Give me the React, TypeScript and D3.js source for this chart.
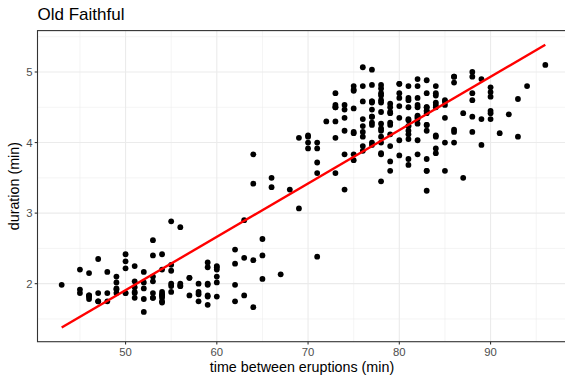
import React from "react";
import * as d3 from "d3";

const waiting: number[] = [79,54,74,62,85,55,88,85,51,85,54,84,78,47,83,52,62,84,52,79,51,47,78,69,74,83,55,76,78,79,73,77,66,80,74,52,48,80,59,90,80,58,84,58,73,83,64,53,82,59,75,90,54,80,54,83,71,64,77,81,59,84,48,82,60,92,78,78,65,73,82,56,79,71,62,76,60,78,76,83,75,82,70,65,73,88,76,80,48,86,60,90,50,78,63,72,84,75,51,82,62,88,49,83,81,47,84,52,86,81,75,59,89,79,59,81,50,85,59,87,53,69,77,56,88,81,45,82,55,90,45,83,56,89,46,82,51,86,53,79,81,60,82,77,76,59,80,49,96,53,77,77,65,81,71,70,81,93,53,89,45,86,58,78,66,76,63,88,52,93,49,57,77,68,81,81,73,50,85,74,55,77,83,83,51,78,84,46,83,55,81,57,76,84,77,81,87,77,51,78,60,82,91,53,78,46,77,84,49,83,71,80,49,75,64,76,53,94,55,76,50,82,54,75,78,79,78,78,70,79,70,54,86,50,90,54,54,77,79,64,75,47,86,63,85,82,57,82,67,74,54,83,73,73,88,80,71,83,56,79,78,84,58,83,43,60,75,81,46,90,46,74];

const eruptions: number[] = [3.6,1.8,3.333,2.283,4.533,2.883,4.7,3.6,1.95,4.35,1.833,3.917,4.2,1.75,4.7,2.167,1.75,4.8,1.6,4.25,1.8,1.75,3.45,3.067,4.533,3.6,1.967,4.083,3.85,4.433,4.3,4.467,3.367,4.033,3.833,2.017,1.867,4.833,1.833,4.783,4.35,1.883,4.567,1.75,4.533,3.317,3.833,2.1,4.633,2,4.8,4.716,1.833,4.833,1.733,4.883,3.717,1.667,4.567,4.317,2.233,4.5,1.75,4.8,1.817,4.4,4.167,4.7,2.067,4.7,4.033,1.967,4.5,4,1.983,5.067,2.017,4.567,3.883,3.6,4.133,4.333,4.1,2.633,4.067,4.933,3.95,4.517,2.167,4,2.2,4.333,1.867,4.817,1.833,4.3,4.667,3.75,1.867,4.9,2.483,4.367,2.1,4.5,4.05,1.867,4.7,1.783,4.85,3.683,4.733,2.3,4.9,4.417,1.7,4.633,2.317,4.6,1.817,4.417,2.617,4.067,4.25,1.967,4.6,3.767,1.917,4.5,2.267,4.65,1.867,4.167,2.8,4.333,1.833,4.383,1.883,4.933,2.033,3.733,4.233,2.233,4.533,4.817,4.333,1.983,4.633,2.017,5.1,1.8,5.033,4,2.4,4.6,3.567,4,4.5,4.083,1.8,3.967,2.2,4.15,2,3.833,3.5,4.583,2.367,5,1.933,4.617,1.917,2.083,4.583,3.333,4.167,4.333,4.5,2.417,4,4.167,1.883,4.583,4.25,3.767,2.033,4.433,4.083,1.833,4.417,2.183,4.8,1.833,4.8,4.1,3.966,4.233,3.5,4.366,2.25,4.667,2.1,4.35,4.133,1.867,4.6,1.783,4.367,3.85,1.933,4.5,2.383,4.7,1.867,3.833,3.417,4.233,2.4,4.8,2,4.15,1.867,4.267,1.75,4.483,4,4.117,4.083,4.267,3.917,4.55,4.083,2.417,4.183,2.217,4.45,1.883,1.85,4.283,3.95,2.333,4.15,2.35,4.933,2.9,4.583,3.833,2.083,4.367,2.133,4.35,2.2,4.45,3.567,4.5,4.15,3.817,3.917,4.45,2,4.283,4.767,4.533,1.85,4.25,1.983,2.25,4.75,4.117,2.15,4.417,1.817,4.467];

const xBreaks = [50, 60, 70, 80, 90];
const xMinor = [45, 55, 65, 75, 85, 95];
const yBreaks = [2, 3, 4, 5];
const yMinor = [1.5, 2.5, 3.5, 4.5, 5.5];

const W = 565, H = 376;
const FONT = "'Liberation Sans', Arial, Helvetica, sans-serif";

export default function App() {
  const n = waiting.length;
  const mx = d3.mean(waiting)!;
  const my = d3.mean(eruptions)!;
  let sxy = 0, sxx = 0;
  for (let i = 0; i < n; i++) {
    sxy += (waiting[i] - mx) * (eruptions[i] - my);
    sxx += (waiting[i] - mx) ** 2;
  }
  const slope = sxy / sxx;
  const intercept = my - slope * mx;
  const [xmin, xmax] = d3.extent(waiting) as [number, number];
  const fit: [number, number][] = [
    [xmin, intercept + slope * xmin],
    [xmax, intercept + slope * xmax],
  ];

  const ylo = Math.min(d3.min(eruptions)!, fit[0][1]);
  const yhi = Math.max(d3.max(eruptions)!, fit[1][1]);
  const xr = xmax - xmin, yr = yhi - ylo;

  const left = 37.5, right = 569.5, top = 30.6, bottom = 341.7;
  const x = d3.scaleLinear().domain([xmin - 0.05 * xr, xmax + 0.05 * xr]).range([left, right]);
  const y = d3.scaleLinear().domain([ylo - 0.05 * yr, yhi + 0.05 * yr]).range([bottom, top]);
  const line = d3.line<[number, number]>().x(d => x(d[0])).y(d => y(d[1]));

  return (
    <svg width={W} height={H} style={{ position: "absolute", left: 0, top: 0, background: "#fff" }} fontFamily={FONT}>
      <rect x={0} y={0} width={W} height={H} fill="#fff" />
      <text x={37.5} y={19.5} fontSize={17} fill="#000">Old Faithful</text>
      <g>
        {xMinor.map(v => (
          <line key={"xm" + v} x1={x(v)} x2={x(v)} y1={top} y2={bottom} stroke="#EBEBEB" strokeWidth={0.55} />
        ))}
        {yMinor.map(v => (
          <line key={"ym" + v} x1={left} x2={right} y1={y(v)} y2={y(v)} stroke="#EBEBEB" strokeWidth={0.55} />
        ))}
        {xBreaks.map(v => (
          <line key={"xb" + v} x1={x(v)} x2={x(v)} y1={top} y2={bottom} stroke="#EBEBEB" strokeWidth={1.1} />
        ))}
        {yBreaks.map(v => (
          <line key={"yb" + v} x1={left} x2={right} y1={y(v)} y2={y(v)} stroke="#EBEBEB" strokeWidth={1.1} />
        ))}
      </g>
      <g>
        {waiting.map((w, i) => (
          <circle key={i} cx={x(w)} cy={y(eruptions[i])} r={2.9} fill="#000" />
        ))}
      </g>
      <path d={line(fit)!} stroke="#FF0000" strokeWidth={2.4} fill="none" />
      <rect x={left} y={top} width={right - left} height={bottom - top} fill="none" stroke="#333333" strokeWidth={1.1} />
      {xBreaks.map(v => (
        <g key={"xt" + v}>
          <line x1={x(v)} x2={x(v)} y1={bottom} y2={bottom + 2.8} stroke="#333333" strokeWidth={1.1} />
          <text x={x(v)} y={bottom + 14.5} fontSize={11.3} fill="#4D4D4D" textAnchor="middle">{v}</text>
        </g>
      ))}
      {yBreaks.map(v => (
        <g key={"yt" + v}>
          <line x1={left - 2.8} x2={left} y1={y(v)} y2={y(v)} stroke="#333333" strokeWidth={1.1} />
          <text x={left - 5} y={y(v) + 4} fontSize={11.3} fill="#4D4D4D" textAnchor="end">{v}</text>
        </g>
      ))}
      <text x={302} y={371.5} fontSize={14.3} fill="#000" textAnchor="middle">time between eruptions (min)</text>
      <text transform={`translate(18.5,${(top + bottom) / 2}) rotate(-90)`} fontSize={14.3} fill="#000" textAnchor="middle">duration (min)</text>
    </svg>
  );
}
